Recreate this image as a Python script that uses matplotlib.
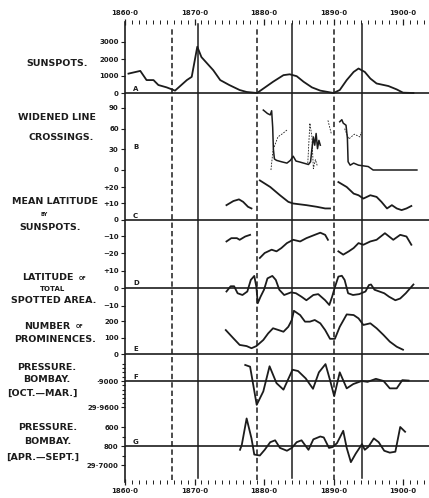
import matplotlib
matplotlib.use('Agg')
import matplotlib.pyplot as plt
import numpy as np
from matplotlib.ticker import MultipleLocator

nan = np.nan
W, H = 429, 498
INK = '#1c1c1c'

# ---- data ----
year_ticks = [1860, 1870, 1880, 1890, 1900]
year_labels = ['1860·0', '1870·0', '1880·0', '1890·0', '1900·0']
minima = [1866.8, 1879.0, 1890.1]
maxima = [1870.5, 1884.0, 1894.1]

# A  sunspots
sun_years = [1860.5, 1862.2, 1863.1, 1864.1, 1864.8, 1866.0, 1867.2, 1868.9, 1869.6,
             1870.4, 1871.0, 1872.7, 1873.7, 1875.0, 1876.5, 1877.5, 1879.0, 1881.3,
             1882.8, 1883.7, 1884.7, 1885.7, 1886.9, 1888.1, 1890.0, 1890.9, 1891.9,
             1892.9, 1893.6, 1894.5, 1895.3, 1896.2, 1897.9, 1899.1, 1900.0, 1901.5]
sun_vals = [1140, 1300, 760, 760, 470, 330, 140, 760, 950,
            2720, 2110, 1340, 760, 470, 175, 60, 0, 660,
            1050, 1100, 990, 660, 330, 140, 0, 175, 760,
            1240, 1440, 1240, 850, 560, 410, 210, 20, 0]

# B  widened line crossings (thick line and thin dashed line)
wl_years = [1879.9, 1880.5, 1880.9, 1881.1, 1881.25, 1881.35, 1881.5, 1881.8, 1882.5,
            1883.3, 1883.8, 1884.2, 1884.6, 1885.0, 1885.7, 1886.4, 1886.7, 1886.9,
            1887.1, 1887.3, 1887.5, 1887.7, 1887.9, 1888.1, nan,
            1890.9, 1891.2, 1891.4, 1891.8, 1892.0, 1892.1, 1892.4, 1892.9, 1893.6,
            1894.3, 1895.0, 1895.7, 1902.0]
wl_vals = [87, 82, 80, 86, 62, 30, 16, 14, 12,
           10, 14, 20, 13, 12, 10, 8, 12, 31,
           48, 36, 53, 31, 43, 36, nan,
           70, 73, 68, 65, 46, 12, 7, 10, 7,
           6, 5, 0, 0]
wl_thin_years = [1881.0, 1881.3, 1882.0, 1882.7, 1883.3, nan,
                 1886.3, 1886.6, 1886.9, 1887.1, 1887.4, 1887.7, nan,
                 1889.2, 1889.7, nan,
                 1891.6, 1892.2, 1893.0, 1893.8, 1894.0]
wl_thin_vals = [0, 29, 48, 53, 58, nan,
                10, 68, 48, 2, 15, 5, nan,
                72, 52, nan,
                60, 45, 52, 48, 55]

# C  mean latitude of sunspots (north and south)
lat_n_years = [1874.6, 1875.6, 1876.4, 1877.0, 1877.7, 1878.2, nan,
               1879.4, 1880.9, 1882.3, 1883.5, 1884.2, 1886.1, 1887.6, 1888.8, 1889.5, nan,
               1890.7, 1891.9, 1892.9, 1893.6, 1894.3, 1895.3, 1896.2, 1896.9, 1897.7,
               1898.4, 1899.1, 1899.8, 1900.5, 1901.2]
lat_n_vals = [9, 11.5, 12.5, 11, 8, 7, nan,
              24, 20, 15, 11, 10, 9, 8, 7, 7, nan,
              23, 20, 16, 15, 13, 15, 14, 11, 7,
              9, 7, 6, 7, 8.5]
lat_s_years = [1874.6, 1875.3, 1876.1, 1876.5, 1877.3, 1878.0, nan,
               1879.4, 1880.1, 1881.1, 1881.8, 1882.5, 1883.3, 1884.2, 1885.2, 1886.1,
               1887.3, 1888.1, 1888.8, 1889.2, nan,
               1890.7, 1891.4, 1892.2, 1892.9, 1893.6, 1894.3, 1895.3, 1896.2, 1897.4,
               1898.6, 1899.6, 1900.5, 1901.2]
lat_s_vals = [-13, -11, -11, -12, -10, -9, nan,
              -23, -20, -18, -19, -17, -14, -12, -13, -11,
              -9, -7.7, -9, -12, nan,
              -19, -21, -19, -17, -14, -15, -13, -12, -8,
              -12, -9, -10, -15]

# D  latitude of total spotted area
area_years = [1874.6, 1875.2, 1875.7, 1876.2, 1876.9, 1877.6, 1878.1, 1878.6, 1878.9,
              1879.1, 1879.5, 1880.0, 1880.5, 1881.2, 1881.7, 1882.2, 1882.9, 1883.9,
              1884.6, 1885.4, 1886.1, 1887.1, 1887.8, 1888.8, 1889.4, 1889.8, 1890.2,
              1890.7, 1891.2, 1891.6, 1892.1, 1892.8, 1893.7, 1894.6, 1895.1, 1895.4,
              1895.9, 1896.6, 1897.3, 1898.0, 1898.9, 1899.6, 1900.4, 1901.5]
area_vals = [-2, 1, 1, -3, -4, -2, 4.6, 6.9, 0.7,
             -8.7, -5, -1, 5.5, 6.9, 4.6, -1, -4, -2.5,
             -3, -5, -7, -4, -3.5, -7, -9.7, -5, 0.5,
             6.5, 7, 4.6, -3, -4, -3.5, -2, 1.7, 2,
             -1, -2, -3, -5, -7, -6, -3, 2]

# E  number of prominences
prom_years = [1874.5, 1875.6, 1876.5, 1877.5, 1878.2, 1878.9, 1879.9, 1880.6, 1881.3,
              1882.1, 1882.8, 1883.5, 1884.0, 1884.3, 1885.2, 1885.9, 1886.6, 1887.3,
              1888.1, 1888.8, 1889.5, 1890.2, 1890.9, 1891.9, 1892.9, 1893.6, 1894.3,
              1895.3, 1896.2, 1897.2, 1898.1, 1899.1, 1900.0]
prom_vals = [145, 95, 55, 48, 35, 48, 85, 125, 156,
             145, 135, 165, 206, 262, 236, 196, 196, 206,
             186, 145, 92, 92, 165, 240, 236, 216, 176,
             186, 156, 115, 75, 44, 26]

# F  pressure Bombay, Oct.-Mar.
pw_years = [1877.3, 1878.0, 1878.95, 1879.9, 1880.8, 1881.8, 1882.8, 1884.1, 1884.9,
            1886.0, 1887.05, 1887.9, 1888.85, 1889.5, 1890.1, 1890.9, 1891.9, 1892.85,
            1894.05, 1894.9, 1896.1, 1897.2, 1898.1, 1899.1, 1899.9, 1900.8]
pw_vals = [29.863, 29.867, 29.955, 29.924, 29.866, 29.905, 29.920, 29.874, 29.877,
           29.894, 29.918, 29.880, 29.861, 29.898, 29.935, 29.880, 29.917, 29.907,
           29.900, 29.902, 29.895, 29.900, 29.917, 29.917, 29.898, 29.899]

# G  pressure Bombay, Apr.-Sept.
ps_years = [1876.55, 1876.8, 1877.5, 1878.2, 1878.6, 1879.4, 1880.1, 1880.9, 1881.6,
            1882.3, 1883.3, 1884.0, 1884.7, 1885.4, 1886.4, 1887.1, 1888.1, 1888.6,
            1889.35, 1889.9, 1890.5, 1891.4, 1891.9, 1892.5, 1893.2, 1894.1, 1894.5,
            1895.0, 1895.8, 1896.5, 1897.3, 1898.1, 1898.9, 1899.6, 1900.3]
ps_vals = [29.784, 29.779, 29.751, 29.772, 29.789, 29.790, 29.784, 29.776, 29.774,
           29.782, 29.785, 29.782, 29.776, 29.774, 29.784, 29.773, 29.770, 29.771,
           29.782, 29.781, 29.777, 29.764, 29.782, 29.797, 29.788, 29.778, 29.784,
           29.781, 29.772, 29.776, 29.785, 29.787, 29.786, 29.760, 29.765]

# ---- layout (pixels of the 429x498 picture) ----
X0, X1 = 125, 429
Y0, Y1 = 22, 482
PX_PER_YEAR = 6.95
xlim = (1860, 1860 + (X1 - X0) / PX_PER_YEAR)

fig = plt.figure(figsize=(W / 100, H / 100), dpi=100)
fig.patch.set_facecolor('white')
rect = [X0 / W, 1 - Y1 / H, (X1 - X0) / W, (Y1 - Y0) / H]


def fx(x):
    return x / W


def fy(y):
    return 1 - y / H


base = fig.add_axes(rect)
base.set_xlim(*xlim)
base.set_ylim(0, 1)
base.set_yticks([])
for s in ['top', 'bottom', 'right']:
    base.spines[s].set_visible(False)
base.spines['left'].set_linewidth(1.2)
base.spines['left'].set_color(INK)
base.set_xticks(year_ticks, year_labels)
base.xaxis.set_minor_locator(MultipleLocator(1))
base.tick_params(axis='x', which='both', top=True, bottom=True, labeltop=True,
                 labelbottom=True, direction='inout', color=INK)
base.tick_params(axis='x', which='major', length=4, width=0.9, labelsize=5, pad=2,
                 labelcolor=INK)
base.tick_params(axis='x', which='minor', length=2.2, width=0.7)
for lab in base.get_xticklabels():
    lab.set_fontweight('bold')

for yr in minima:
    base.axvline(yr, ymin=0.005, ymax=0.99, color=INK, lw=1.1, ls=(0, (3.5, 2)))
for yr in maxima:
    base.axvline(yr, ymin=0.008, ymax=0.995, color=INK, lw=1.1)


def panel(v1, y1, v2, y2, ticks, labels, base_val=None, minor=None):
    ax = fig.add_axes(rect, sharex=base)
    ax.patch.set_alpha(0)
    s = (v2 - v1) / (y2 - y1)
    ax.set_ylim(v1 + s * (Y1 - y1), v1 + s * (Y0 - y1))
    for sp in ax.spines.values():
        sp.set_visible(False)
    ax.tick_params(axis='x', which='both', bottom=False, top=False,
                   labelbottom=False, labeltop=False)
    ax.set_yticks(ticks, labels)
    if minor is not None:
        ax.set_yticks(minor, minor=True)
    ax.tick_params(axis='y', which='both', direction='out', length=3, width=0.8,
                   color=INK, labelsize=5, pad=1.5, labelcolor=INK)
    ax.tick_params(axis='y', which='minor', length=2)
    for lab in ax.get_yticklabels():
        lab.set_fontweight('bold')
    if base_val is not None:
        ax.axhline(base_val, color=INK, lw=1.2)
    return ax


curve = dict(color=INK, lw=1.3, solid_joinstyle='round', clip_on=False)

axA = panel(0, 93, 3000, 42, [0, 1000, 2000, 3000], ['0', '1000', '2000', '3000'], 0)
axA.plot(sun_years, sun_vals, **curve)

axB = panel(0, 170, 90, 108, [0, 30, 60, 90], ['0', '30', '60', '90'])
axB.plot(wl_years, wl_vals, color=INK, lw=1.1, clip_on=False)
axB.plot(wl_thin_years, wl_thin_vals, color=INK, lw=0.6, ls=(0, (2, 1.5)), clip_on=False)

axC = panel(0, 220, 20, 187, [20, 10, 0, -10, -20],
            ['+20', '+10', '0', '−10', '−20'], 0)
axC.plot(lat_n_years, lat_n_vals, **curve)
axC.plot(lat_s_years, lat_s_vals, **curve)

axD = panel(0, 288, 10, 270.5, [10, 0, -10], ['+10', '0', '−10'], 0)
axD.plot(area_years, area_vals, **curve)

axE = panel(0, 354, 200, 321, [0, 100, 200], ['0', '100', '200'], 0)
axE.plot(prom_years, prom_vals, **curve)

axF = panel(29.90, 381, 29.96, 407, [29.90, 29.96], ['·9000', '29·9600'], 29.90,
            minor=np.arange(29.86, 29.955, 0.01))
axF.plot(pw_years, pw_vals, **curve)

axG = panel(29.78, 446, 29.76, 427, [29.76, 29.78, 29.80], ['600', '800', '29·7000'], 29.78,
            minor=[29.77, 29.79])
axG.plot(ps_years, ps_vals, **curve)

# ---- lettering ----
big = dict(fontsize=6.8, fontweight='bold', color=INK, va='center')
small = dict(fontsize=3.6, fontweight='bold', color=INK, va='center')

fig.text(fx(88), fy(63), 'SUNSPOTS.', ha='right', **big)
fig.text(fx(96), fy(117), 'WIDENED LINE', ha='right', **big)
fig.text(fx(94), fy(138), 'CROSSINGS.', ha='right', **big)
fig.text(fx(98), fy(201), 'MEAN LATITUDE', ha='right', **big)
fig.text(fx(44), fy(214), 'BY', ha='center', **small)
fig.text(fx(50), fy(227), 'SUNSPOTS.', ha='center', **big)
fig.text(fx(74), fy(278), 'LATITUDE', ha='right', **big)
fig.text(fx(79), fy(278), 'OF', ha='left', **small)
fig.text(fx(52), fy(289), 'TOTAL', ha='center', fontsize=5, fontweight='bold',
         color=INK, va='center')
fig.text(fx(96), fy(300), 'SPOTTED AREA.', ha='right', **big)
fig.text(fx(70), fy(326), 'NUMBER', ha='right', **big)
fig.text(fx(76), fy(326), 'OF', ha='left', **small)
fig.text(fx(96), fy(339), 'PROMINENCES.', ha='right', **big)
fig.text(fx(47), fy(367), 'PRESSURE.', ha='center', **big)
fig.text(fx(47), fy(379), 'BOMBAY.', ha='center', **big)
fig.text(fx(42), fy(393), '[OCT.—MAR.]', ha='center', **big)
fig.text(fx(48), fy(427), 'PRESSURE.', ha='center', **big)
fig.text(fx(48), fy(441), 'BOMBAY.', ha='center', **big)
fig.text(fx(43), fy(457), '[APR.—SEPT.]', ha='center', **big)

letters = [('A', 89), ('B', 147), ('C', 216), ('D', 283), ('E', 349), ('F', 377), ('G', 442)]
for name, ypix in letters:
    fig.text(fx(133), fy(ypix), name, ha='left', fontsize=5, fontweight='bold',
             color=INK, va='center')

fig.savefig('out.png', dpi=100, facecolor='white')
